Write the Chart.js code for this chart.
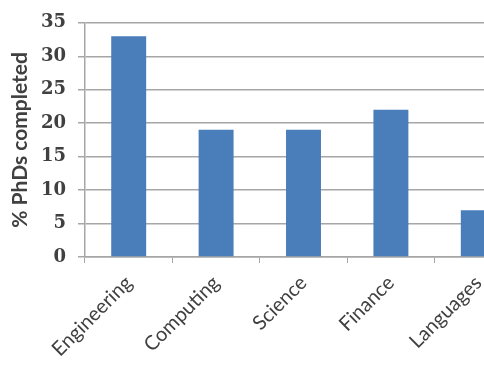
<!DOCTYPE html>
<html>
<head>
<meta charset="utf-8">
<title>PhDs completed</title>
<script src="https://cdn.jsdelivr.net/npm/chart.js@4.4.0/dist/chart.umd.min.js"></script>
<style>
  html, body { margin: 0; padding: 0; background: #fff; overflow: hidden; }
  /* the plot runs a little past the right edge of the window */
  #wrap { width: 526px; height: 369px; }
</style>
</head>
<body>
<div id="wrap"><canvas id="myChart"></canvas></div>
<script>
// Données du graphique
const categories = ['Engineering', 'Computing', 'Science', 'Finance', 'Languages'];
const pourcentages = [33, 19, 19, 22, 7];
const yMin = 0, yMax = 35, yStep = 5;

const gris = '#a6a6a6';
const texte = '#404040';

const ctx = document.getElementById('myChart').getContext('2d');

const myChart = new Chart(ctx, {
    type: 'bar',
    data: {
        labels: categories,
        datasets: [{
            label: '% PhDs completed',
            data: pourcentages,
            backgroundColor: '#4a7ebb',
            borderWidth: 0,
            categoryPercentage: 1.0,
            barPercentage: 0.4
        }]
    },
    options: {
        responsive: true,
        maintainAspectRatio: false,
        animation: false,
        layout: { padding: { top: 2, right: 4, bottom: 0, left: 0 } },
        plugins: {
            legend: { display: false },
            tooltip: { enabled: false }
        },
        scales: {
            x: {
                offset: true,
                grid: {
                    offset: true,
                    drawOnChartArea: false,
                    drawTicks: true,
                    tickLength: 6,
                    color: gris
                },
                border: { color: gris, width: 1.5 },
                ticks: {
                    minRotation: 45,
                    maxRotation: 45,
                    padding: 8,
                    color: texte,
                    font: { family: 'Lato, "Open Sans", sans-serif', size: 20 }
                },
                afterFit: function(scale) { scale.height = 112; }
            },
            y: {
                min: yMin,
                max: yMax,
                ticks: {
                    stepSize: yStep,
                    padding: 12,
                    color: texte,
                    font: { family: '"DejaVu Serif", serif', size: 18, weight: 'bold' }
                },
                grid: {
                    color: gris,
                    lineWidth: 1.5,
                    tickLength: 7
                },
                border: { color: gris, width: 1.5 },
                title: {
                    display: true,
                    text: '% PhDs completed',
                    color: texte,
                    padding: { top: 8, bottom: 4 },
                    font: { family: 'Lato, "Open Sans", sans-serif', size: 21, weight: 'bold' }
                },
                afterFit: function(scale) { scale.width = 85; }
            }
        }
    }
});
</script>
</body>
</html>
